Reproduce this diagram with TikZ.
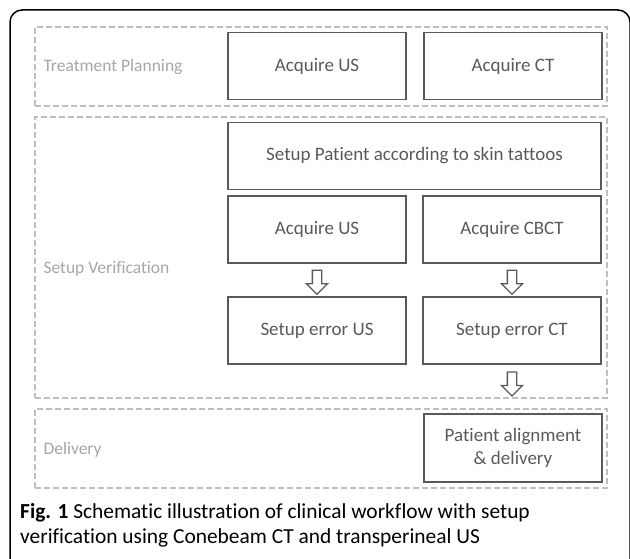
\documentclass[tikz,border=0pt]{standalone}
\usepackage{fontspec}
\setmainfont{Carlito}[Ligatures=NoCommon]
\usetikzlibrary{shapes.arrows,calc}
\definecolor{boxgray}{HTML}{595959}
\definecolor{dashgray}{HTML}{BFBFBF}
\definecolor{labelgray}{HTML}{A6A6A6}
\begin{document}
\begin{tikzpicture}[x=1pt,y=-1pt,
  stage/.style={draw=boxgray,line width=1.6pt,minimum width=178pt,minimum height=67pt,text=boxgray,font=\fontsize{19}{23}\selectfont,align=center,inner sep=0pt},
  group/.style={draw=dashgray,line width=1.3pt,dash pattern=on 6pt off 3pt,minimum width=572pt,inner sep=0pt},
  grouplabel/.style={text=labelgray,anchor=west,font=\fontsize{17.5}{21}\selectfont},
  flow/.style={single arrow,draw=boxgray,line width=1.3pt,fill=white,shape border rotate=270,minimum height=24pt,inner sep=4pt,single arrow head extend=6pt,single arrow head indent=0pt}]
\useasboundingbox (0,0) rectangle (630,559);
\draw[line width=1.5pt,rounded corners=12pt] (10,600) |- (630,10) -- (630,600);
\node[group,minimum height=79pt] (plan) at (321,66.5) {};
\node[group,minimum height=281pt] (verif) at (321,257.5) {};
\node[group,minimum height=79pt] (deliv) at (321,448.5) {};
\node[grouplabel] (planlbl) at (40,67) {Treatment Planning};
\node[grouplabel] (veriflbl) at (40,269) {Setup Verification};
\node[grouplabel] (delivlbl) at (40,450) {Delivery};
\node[stage] (planUS) at (317,66) {Acquire US};
\node[stage] (planCT) at (513,66) {Acquire CT};
\node[stage,minimum width=373pt] (setup) at (414.5,156) {Setup Patient according to skin tattoos};
\node[stage] (acqUS) at (317,229.5) {Acquire US};
\node[stage] (acqCBCT) at (512,229.5) {Acquire CBCT};
\node[stage] (errUS) at (317,330.5) {Setup error US};
\node[stage] (errCT) at (512,330.5) {Setup error CT};
\node[stage,minimum height=68pt] (align) at (513,448) {Patient alignment\\\& delivery};
\node[flow] (toerrUS) at ($(acqUS.south)!0.5!(errUS.north)$) {};
\node[flow] (toerrCT) at ($(acqCBCT.south)!0.5!(errCT.north)$) {};
\coordinate (verifend) at (errCT.south |- verif.south);
\node[flow] (toalign) at ($(errCT.south)!0.5!(verifend)$) {};
\node[anchor=north west,align=left,inner sep=0pt,font=\fontsize{21.4}{25}\selectfont] (caption) at (20,503) {\textbf{Fig. 1} Schematic illustration of clinical workflow with setup\\verification using Conebeam CT and transperineal US};
\end{tikzpicture}
\end{document}
